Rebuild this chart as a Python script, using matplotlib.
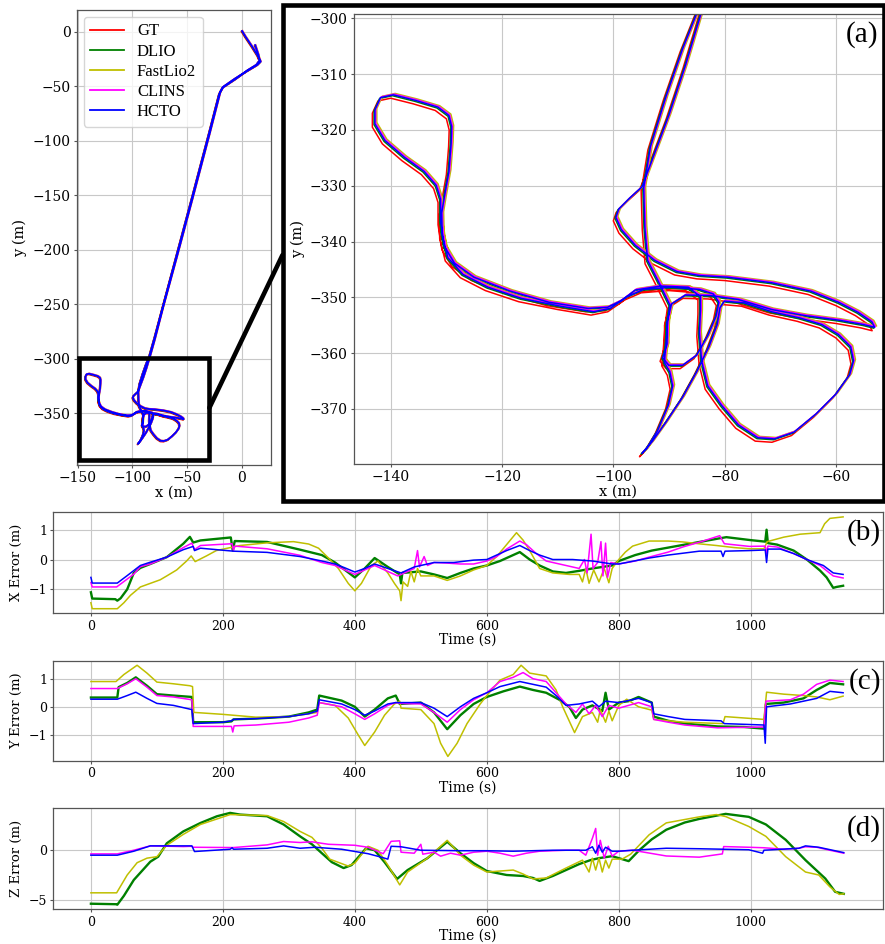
import matplotlib
matplotlib.use('Agg')
import matplotlib.pyplot as plt
from matplotlib.patches import Rectangle, ConnectionPatch

plt.rcParams['font.family'] = ['DejaVu Serif']
plt.rcParams['axes.unicode_minus'] = True

# ---------------- data ----------------
METHODS = ['GT', 'DLIO', 'FastLio2', 'CLINS', 'HCTO']
COLORS = ['red', 'green', '#bfbf00', 'magenta', 'blue']

# ground-truth trajectory waypoints (x, y) in metres
GT_PATH = [
    (0, 0), (3, -5), (9, -14), (14, -22), (17, -28), (14, -31), (4, -37), (-7, -44), (-17, -51),
    (-20, -56), (-30, -95), (-45, -152), (-60, -208), (-72, -252), (-80, -283), (-84.5, -299),
    (-87.5, -309), (-90.5, -318), (-93.5, -326), (-95.3, -330.8), (-97.5, -332.8), (-99.5, -334.8),
    (-100, -336.3), (-99, -338.5), (-96.5, -341.3), (-93, -344), (-89, -346), (-85, -346.7),
    (-80, -347), (-72, -348), (-65, -349.5), (-60, -351.5), (-56.5, -353.3), (-54, -355), (-53.5, -356),
    (-55.5, -355.5), (-60, -354.7), (-66, -353.9), (-72, -352.8), (-78, -351), (-83, -350.3),
    (-87.5, -350.2), (-90, -351.8), (-90.8, -355), (-90.8, -359), (-91.6, -361.5), (-90.5, -362.8),
    (-88, -362.8), (-85.5, -361), (-83.5, -357.5), (-82, -354), (-81.5, -351.5), (-82.5, -350),
    (-85, -349.2), (-90, -348.8), (-95, -349.2), (-98, -350.5), (-101, -352.6), (-104, -353.2),
    (-110, -352.2), (-117, -350.8), (-123, -348.8), (-127.5, -346.5), (-130.2, -343.5),
    (-131.2, -339.5), (-131.3, -335.5), (-130.8, -332.5), (-130, -328), (-129.6, -323),
    (-129.5, -320), (-130, -318), (-132, -316.5), (-136, -315.3), (-140, -314.3), (-142.3, -314.8),
    (-143.3, -317), (-143.3, -319.5), (-141.5, -322.5), (-138, -325.5), (-134.5, -328),
    (-132.3, -330.5), (-131.5, -333), (-131.5, -337), (-130.8, -341.5), (-129, -344.5),
    (-125.5, -347), (-119, -349.5), (-112, -351.5), (-105, -352.6), (-101.5, -352.4), (-99, -351.2),
    (-96.5, -349.3), (-92, -348.6), (-87, -348.8), (-84.8, -350.5), (-84.8, -353), (-85, -357),
    (-84.6, -362), (-83.5, -366.5), (-81, -370), (-78, -373.5), (-74.5, -375.8), (-71.5, -376),
    (-68, -374.8), (-64, -371.5), (-60.5, -368), (-58, -364.5), (-57.3, -362), (-57.8, -359.5),
    (-60, -357.3), (-63, -355.5), (-67, -354.3), (-72, -353.2), (-77, -351.6), (-80.5, -351.3),
    (-81.3, -352.5), (-81.8, -355.5), (-83.3, -359.5), (-85.5, -364), (-88, -368.5), (-91, -373),
    (-93.5, -376.5), (-95.3, -378.6), (-94.5, -377.8), (-92.5, -374.5), (-90.6, -370),
    (-89.8, -366.5), (-90.3, -364), (-91.3, -362.3), (-91, -359), (-90.7, -355), (-90.3, -352),
    (-92.5, -347.5), (-94.3, -344), (-94.8, -338), (-95, -331), (-93.8, -323.6), (-91, -314.6),
    (-88, -306), (-84.8, -298), (-80, -281), (-72, -251), (-60, -206), (-45, -150), (-30, -93),
    (-21, -58), (-18, -52), (-6, -44), (5, -36), (13, -31), (16, -27), (15, -22), (12, -13),
]
# approximate constant offset of each estimate from GT (dx, dy) in metres
TRAJ_OFFSET = [(0.0, 0.0), (0.3, 0.45), (0.8, 0.85), (0.6, 0.75), (0.45, 0.6)]

# error series (time s, error m)
DLIO_X = [(0, -1.1), (2, -1.31), (37, -1.33), (40, -1.38), (45, -1.3), (55, -1.0), (65, -0.45), (75, -0.28),
          (90, -0.15), (115, 0.08), (140, 0.53), (150, 0.76), (155, 0.57), (166, 0.64), (212, 0.74), (215, 0.3),
          (218, 0.62), (267, 0.59), (317, 0.33), (350, 0.15), (370, -0.1), (385, -0.35), (400, -0.6), (415, -0.3),
          (430, 0.05), (450, -0.25), (468, -0.5), (470, -0.8), (472, -0.45), (500, -0.4), (520, -0.5),
          (540, -0.62), (560, -0.45), (580, -0.3), (600, -0.2), (620, -0.05), (640, 0.15), (650, 0.25),
          (665, 0.0), (680, -0.2), (700, -0.4), (720, -0.45), (740, -0.38), (760, -0.3), (790, -0.2),
          (800, -0.05), (825, 0.15), (850, 0.3), (875, 0.4), (900, 0.5), (925, 0.6), (950, 0.7), (963, 0.75),
          (1000, 0.65), (1022, 0.6), (1024, 1.0), (1026, 0.55), (1040, 0.5), (1065, 0.3), (1085, 0.0),
          (1105, -0.37), (1115, -0.6), (1125, -0.95), (1130, -0.92), (1140, -0.88)]
FASTLIO_X = [(0, -1.45), (2, -1.65), (40, -1.65), (50, -1.45), (60, -1.2), (75, -0.92), (90, -0.8), (105, -0.68),
             (115, -0.55), (130, -0.35), (145, -0.05), (152, 0.12), (158, -0.07), (175, 0.12), (190, 0.3),
             (226, 0.47), (267, 0.56), (307, 0.6), (330, 0.52), (345, 0.38), (360, 0.05), (375, -0.3),
             (390, -0.8), (400, -1.05), (410, -0.8), (425, -0.2), (435, -0.05), (450, -0.45), (460, -0.8),
             (468, -1.05), (470, -1.38), (473, -0.75), (480, -0.9), (485, -0.4), (490, -0.75), (495, -0.3),
             (500, -0.55), (520, -0.55), (540, -0.7), (560, -0.55), (580, -0.35), (600, -0.2), (615, 0.1),
             (630, 0.5), (645, 0.9), (655, 0.65), (665, 0.3), (680, -0.3), (700, -0.45), (725, -0.5),
             (740, -0.5), (745, -0.75), (750, -0.3), (755, -0.8), (762, -0.35), (770, -0.75), (778, -0.3),
             (785, -0.78), (790, -0.3), (800, 0.0), (810, 0.25), (821, 0.45), (846, 0.62), (875, 0.62),
             (897, 0.59), (925, 0.52), (948, 0.47), (975, 0.4), (998, 0.36), (1020, 0.36), (1025, 0.6),
             (1050, 0.75), (1075, 0.85), (1105, 0.9), (1112, 1.2), (1120, 1.38), (1140, 1.43)]
CLINS_X = [(0, -0.77), (2, -0.92), (39, -0.92), (65, -0.49), (75, -0.24), (90, -0.15), (115, 0.08), (140, 0.4),
           (153, 0.55), (157, 0.33), (166, 0.47), (214, 0.53), (216, 0.3), (218, 0.45), (267, 0.36), (317, 0.14),
           (350, -0.1), (370, -0.2), (385, -0.35), (400, -0.5), (415, -0.35), (430, -0.2), (450, -0.4),
           (465, -0.55), (475, -0.45), (490, -0.3), (495, 0.3), (498, -0.25), (505, 0.1), (510, -0.2),
           (520, -0.1), (540, -0.12), (560, -0.15), (580, -0.15), (600, -0.05), (615, 0.1), (630, 0.35),
           (650, 0.62), (660, 0.5), (675, 0.2), (690, -0.05), (700, -0.1), (720, -0.2), (740, -0.3),
           (748, 0.0), (752, -0.45), (758, 0.85), (761, -0.3), (768, -0.1), (773, 0.6), (776, -0.55),
           (780, 0.55), (783, -0.6), (788, -0.1), (800, -0.15), (825, -0.05), (846, 0.08), (875, 0.25),
           (897, 0.42), (925, 0.6), (953, 0.8), (960, 0.53), (998, 0.44), (1022, 0.45), (1024, 0.2),
           (1026, 0.45), (1040, 0.42), (1065, 0.2), (1085, 0.0), (1105, -0.2), (1125, -0.55), (1140, -0.62)]
HCTO_X = [(0, -0.6), (2, -0.79), (40, -0.79), (55, -0.54), (75, -0.2), (90, -0.09), (115, 0.08), (140, 0.33),
          (155, 0.44), (157, 0.3), (166, 0.38), (216, 0.28), (267, 0.24), (317, 0.1), (350, -0.05), (370, -0.15),
          (385, -0.28), (400, -0.42), (415, -0.3), (430, -0.15), (450, -0.3), (470, -0.45), (490, -0.25),
          (500, -0.2), (520, -0.1), (550, -0.1), (580, -0.02), (600, 0.0), (630, 0.3), (650, 0.47), (665, 0.3),
          (680, 0.15), (700, 0.0), (730, 0.0), (760, -0.05), (790, -0.15), (800, -0.15), (846, 0.05),
          (875, 0.15), (922, 0.28), (955, 0.28), (958, 0.1), (961, 0.28), (998, 0.3), (1022, 0.32),
          (1024, -0.1), (1026, 0.35), (1045, 0.35), (1065, 0.2), (1085, 0.0), (1110, -0.2), (1125, -0.45),
          (1140, -0.5)]

DLIO_Y = [(0, 0.33), (40, 0.33), (42, 0.7), (55, 0.85), (68, 1.05), (85, 0.75), (100, 0.45), (125, 0.4),
          (153, 0.35), (155, -0.55), (200, -0.55), (213, -0.52), (216, -0.45), (250, -0.42), (300, -0.35),
          (330, -0.2), (343, -0.1), (346, 0.4), (380, 0.22), (400, 0.0), (415, -0.35), (430, -0.1), (450, 0.3),
          (462, 0.4), (468, 0.1), (500, 0.15), (520, -0.2), (540, -0.8), (560, -0.3), (580, 0.1), (600, 0.35),
          (625, 0.55), (650, 0.72), (670, 0.6), (690, 0.5), (710, 0.25), (725, 0.0), (735, -0.4), (745, -0.1),
          (760, 0.05), (775, -0.15), (780, 0.5), (785, -0.1), (800, 0.15), (815, 0.2), (830, 0.35), (850, 0.15),
          (853, -0.35), (875, -0.5), (900, -0.6), (950, -0.7), (990, -0.72), (1020, -0.78), (1023, 0.1),
          (1050, 0.15), (1080, 0.3), (1100, 0.6), (1120, 0.85), (1140, 0.8)]
FASTLIO_Y = [(0, 0.9), (38, 0.9), (50, 1.15), (70, 1.48), (85, 1.2), (100, 0.88), (125, 0.82), (150, 0.75),
             (154, 0.72), (156, -0.2), (200, -0.27), (215, -0.3), (250, -0.37), (300, -0.35), (330, -0.25),
             (343, -0.2), (346, 0.15), (370, 0.05), (390, -0.4), (405, -1.0), (415, -1.38), (430, -0.9),
             (445, -0.3), (460, 0.1), (468, 0.2), (470, -0.05), (500, -0.1), (520, -0.6), (530, -1.3),
             (541, -1.77), (555, -1.3), (570, -0.6), (590, 0.1), (600, 0.4), (620, 0.95), (640, 1.15),
             (652, 1.48), (665, 1.2), (690, 1.1), (705, 0.6), (715, 0.0), (733, -0.92), (745, -0.35),
             (760, -0.2), (768, -0.55), (772, -0.1), (780, -0.55), (785, -0.15), (790, -0.5), (800, 0.05),
             (812, 0.27), (830, 0.0), (850, -0.12), (853, -0.45), (875, -0.5), (900, -0.55), (958, -0.6),
             (961, -0.35), (1020, -0.45), (1024, 0.52), (1050, 0.45), (1080, 0.4), (1100, 0.35), (1120, 0.25),
             (1140, 0.38)]
CLINS_Y = [(0, 0.65), (40, 0.65), (55, 0.82), (68, 1.0), (85, 0.7), (100, 0.4), (125, 0.35), (153, 0.25),
           (155, -0.7), (200, -0.7), (213, -0.7), (215, -0.9), (217, -0.68), (250, -0.65), (300, -0.55),
           (330, -0.4), (343, -0.3), (346, 0.15), (380, 0.0), (400, -0.25), (415, -0.45), (430, -0.25),
           (450, 0.05), (462, 0.15), (470, 0.12), (500, 0.1), (520, -0.2), (540, -0.55), (560, -0.1),
           (580, 0.25), (600, 0.5), (620, 0.9), (640, 1.05), (655, 1.22), (670, 1.0), (690, 0.9), (705, 0.5),
           (720, 0.1), (735, -0.2), (745, 0.1), (755, -0.25), (765, 0.05), (775, -0.35), (785, 0.05),
           (800, -0.05), (830, 0.15), (850, 0.0), (853, -0.45), (875, -0.55), (900, -0.65), (950, -0.75),
           (1020, -0.72), (1023, 0.2), (1060, 0.25), (1080, 0.45), (1100, 0.8), (1120, 0.95), (1140, 0.9)]
HCTO_Y = [(0, 0.27), (40, 0.27), (55, 0.4), (68, 0.52), (85, 0.3), (100, 0.12), (125, 0.05), (153, -0.1),
          (155, -0.6), (200, -0.55), (213, -0.5), (216, -0.45), (250, -0.42), (300, -0.35), (330, -0.25),
          (343, -0.15), (346, 0.25), (380, 0.1), (400, -0.1), (415, -0.3), (430, -0.15), (450, 0.1),
          (462, 0.15), (500, 0.15), (520, -0.05), (540, -0.35), (560, 0.0), (580, 0.3), (600, 0.5),
          (620, 0.72), (650, 0.9), (670, 0.8), (690, 0.7), (705, 0.4), (720, 0.05), (740, 0.1), (760, 0.2),
          (770, 0.0), (780, 0.2), (800, 0.15), (830, 0.3), (850, 0.15), (853, -0.25), (875, -0.35),
          (900, -0.45), (955, -0.5), (960, -0.6), (1020, -0.65), (1022, -1.3), (1024, 0.0), (1060, 0.1),
          (1080, 0.2), (1100, 0.3), (1120, 0.55), (1140, 0.5)]

DLIO_Z = [(0, -5.4), (38, -5.45), (40, -5.5), (50, -4.6), (65, -3.0), (90, -1.16), (102, -0.65), (115, 0.7),
          (140, 1.9), (166, 2.75), (191, 3.43), (211, 3.77), (226, 3.6), (267, 3.43), (292, 2.6), (317, 1.4),
          (335, 0.6), (350, -0.3), (365, -1.2), (383, -1.8), (395, -1.5), (417, 0.2), (430, 0.0), (445, -1.2),
          (464, -2.9), (480, -2.0), (510, -0.8), (540, 0.85), (560, -0.3), (580, -1.3), (600, -2.1),
          (630, -2.5), (655, -2.6), (670, -2.8), (680, -3.1), (700, -2.6), (720, -2.0), (740, -1.4),
          (757, -1.0), (770, -0.8), (790, -0.6), (800, -0.8), (815, -1.1), (831, 0.0), (850, 1.1),
          (872, 2.07), (900, 2.8), (922, 3.16), (962, 3.67), (997, 3.37), (1023, 2.6), (1053, 1.05),
          (1083, -1.0), (1113, -2.86), (1128, -4.2), (1141, -4.4)]
FASTLIO_Z = [(0, -4.3), (39, -4.3), (55, -2.5), (70, -1.26), (85, -0.8), (100, -0.65), (115, 0.5), (140, 1.6),
             (166, 2.6), (211, 3.6), (267, 3.5), (292, 2.9), (317, 1.9), (335, 1.3), (350, 0.2), (362, -0.9),
             (390, -1.6), (400, -1.3), (420, 0.4), (435, 0.0), (450, -1.5), (468, -3.5), (480, -2.2),
             (510, -0.8), (540, 1.0), (560, -0.5), (580, -1.5), (600, -2.2), (620, -2.1), (640, -2.0),
             (655, -2.4), (670, -2.9), (690, -2.8), (720, -1.8), (745, -1.0), (755, -2.2), (760, -0.8),
             (765, -2.0), (770, -0.8), (775, -2.2), (780, -1.0), (785, -1.8), (790, -0.9), (805, -0.9),
             (818, -0.4), (846, 1.56), (872, 2.76), (922, 3.37), (948, 3.6), (962, 3.4), (997, 2.4),
             (1023, 1.4), (1053, -0.65), (1083, -2.2), (1103, -2.5), (1120, -3.7), (1134, -4.46), (1141, -4.4)]
CLINS_Z = [(0, -0.37), (40, -0.37), (65, 0.0), (90, 0.44), (140, 0.37), (153, 0.4), (155, 0.3), (216, 0.27),
           (267, 0.54), (292, 0.88), (317, 0.78), (335, 0.85), (360, 0.6), (400, 0.5), (420, 0.3),
           (443, -0.35), (455, 0.9), (468, 0.95), (470, -0.2), (490, -0.3), (500, 0.6), (503, -0.4),
           (520, -0.2), (530, -0.6), (545, -0.3), (560, -0.5), (580, -0.2), (600, -0.1), (620, -0.3),
           (640, -0.6), (660, -0.3), (680, -0.1), (720, 0.0), (740, 0.0), (750, -0.5), (760, 1.2),
           (765, 2.2), (768, -0.5), (772, 1.0), (778, -0.8), (784, 0.4), (790, -0.6), (800, -0.1),
           (821, 0.0), (872, -0.58), (922, -0.7), (957, -0.37), (959, 0.37), (997, 0.3), (1020, 0.25),
           (1050, 0.1), (1073, 0.2), (1083, 0.35), (1100, 0.3), (1120, 0.0), (1141, -0.3)]
HCTO_Z = [(0, -0.5), (40, -0.5), (65, -0.1), (90, 0.44), (140, 0.44), (153, 0.44), (157, -0.13), (211, 0.1),
          (214, 0.25), (216, 0.1), (267, 0.2), (292, 0.44), (317, 0.2), (340, 0.3), (380, 0.1), (420, -0.35),
          (440, -0.7), (450, -0.9), (455, 0.4), (470, 0.35), (500, 0.0), (560, -0.05), (600, -0.05),
          (640, -0.1), (700, 0.0), (750, 0.0), (760, 0.35), (765, -0.3), (770, 0.5), (775, -0.2), (780, 0.3),
          (790, -0.1), (800, -0.1), (821, 0.0), (872, 0.2), (922, 0.15), (997, 0.05), (1018, -0.3),
          (1020, 0.0), (1073, 0.2), (1083, 0.44), (1103, 0.3), (1141, -0.24)]

ERR_SERIES = {
    'X': [DLIO_X, FASTLIO_X, CLINS_X, HCTO_X],
    'Y': [DLIO_Y, FASTLIO_Y, CLINS_Y, HCTO_Y],
    'Z': [DLIO_Z, FASTLIO_Z, CLINS_Z, HCTO_Z],
}
ERR_COLORS = COLORS[1:]

# ---------------- figure ----------------
W, H = 885, 944
fig = plt.figure(figsize=(W / 100, H / 100), dpi=100)


def px_axes(l, t, r, b):
    return fig.add_axes([l / W, 1 - b / H, (r - l) / W, (b - t) / H])


SERIF_T = ['Liberation Serif', 'DejaVu Serif']
GRID_KW = dict(color='#c8c8c8', linewidth=0.8)


def style(ax, size):
    ax.grid(True, **GRID_KW)
    ax.set_axisbelow(True)
    for s in ax.spines.values():
        s.set_color('#555555')
        s.set_linewidth(0.9)
    ax.tick_params(labelsize=size, color='#555555', length=2.5, pad=2)


# ---- overview trajectory ----
ax1 = px_axes(77, 10, 271, 465)
gx = [p[0] for p in GT_PATH]
gy = [p[1] for p in GT_PATH]
for name, col, (dx, dy) in zip(METHODS, COLORS, TRAJ_OFFSET):
    ax1.plot([v + dx for v in gx], [v + dy for v in gy], color=col, lw=1.3, label=name)
ax1.set_xlim(-150.6, 26.9)
ax1.set_ylim(-397.4, 19.9)
ax1.set_xticks([-150, -100, -50, 0])
ax1.set_yticks([0, -50, -100, -150, -200, -250, -300, -350])
style(ax1, 10)
ax1.set_xlabel('x (m)', fontsize=10.5, labelpad=0)
ax1.set_ylabel('y (m)', fontsize=10.5, labelpad=4)
leg = ax1.legend(loc='upper left', prop={'family': SERIF_T, 'size': 12}, labelspacing=0.25,
                 handlelength=2.0, borderaxespad=0.4, fancybox=True)
ax1.add_patch(Rectangle((-148.5, -392.6), 119, 93, fill=False, ec='black', lw=3.3, zorder=5, clip_on=False))

# ---- zoomed trajectory ----
ax2 = px_axes(354, 14, 882.7, 464)
for name, col, (dx, dy) in zip(METHODS, COLORS, TRAJ_OFFSET):
    ax2.plot([v + dx for v in gx], [v + dy for v in gy], color=col, lw=1.1)
ax2.set_xlim(-146.6, -51.6)
ax2.set_ylim(-379.9, -299.2)
ax2.set_xticks([-140, -120, -100, -80, -60])
ax2.set_yticks([-300, -310, -320, -330, -340, -350, -360, -370])
style(ax2, 10)
ax2.set_xlabel('x (m)', fontsize=10.5, labelpad=0)
ax2.set_ylabel('y (m)', fontsize=10.5, labelpad=3.5)
ax2.text(0.992, 0.985, '(a)', transform=ax2.transAxes, ha='right', va='top',
         family=SERIF_T, fontsize=21)

# frame around the zoomed view and connector
fig.patches.append(Rectangle((282.5 / W, 1 - 501 / H), (884 - 282.5) / W, (501 - 5.3) / H,
                             fill=False, ec='black', lw=3.3, transform=fig.transFigure, figure=fig))
con = ConnectionPatch(xyA=(-29.5, -345), coordsA=ax1.transData,
                      xyB=(282.5 / W, 1 - 255 / H), coordsB=fig.transFigure,
                      color='black', lw=3.3)
fig.add_artist(con)

# ---- error panels ----
panels = [('X', 'X Error (m)', '(b)', (512.3, 613.3), [-1, 0, 1]),
          ('Y', 'Y Error (m)', '(c)', (660.7, 761.0), [-1, 0, 1]),
          ('Z', 'Z Error (m)', '(d)', (808.3, 909.3), [-5, 0])]
for key, ylab, tag, (top, bot), yt in panels:
    ax = px_axes(53.3, top, 882.7, bot)
    for ser, col in zip(ERR_SERIES[key], ERR_COLORS):
        lw = 1.7 if col == 'green' else 1.1
        ax.plot([p[0] for p in ser], [p[1] for p in ser], color=col, lw=lw)
    ax.set_xlim(-57, 1200)
    ax.set_xticks([0, 200, 400, 600, 800, 1000])
    ax.set_yticks(yt)
    style(ax, 9)
    ax.set_xlabel('Time (s)', fontsize=10, labelpad=0)
    ax.set_ylabel(ylab, fontsize=9.5, labelpad=4)
    ax.text(0.998, 0.93, tag, transform=ax.transAxes, ha='right', va='top',
            family=SERIF_T, fontsize=21)

fig.savefig('out.png', dpi=100)
